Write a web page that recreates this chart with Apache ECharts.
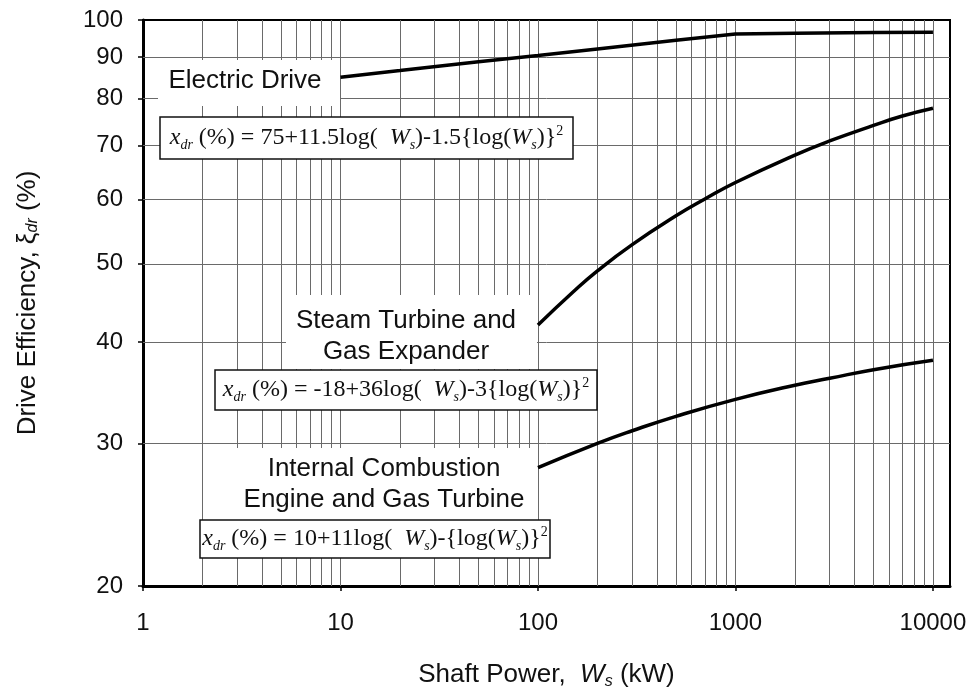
<!DOCTYPE html>
<html lang="en" style="height: 100%">
<head>
  <meta charset="utf-8">
</head>
<body style="height: 100%; margin: 0; background: #fff">
  <div id="container" style="height: 100%"></div>

  <script type="text/javascript" src="https://cdn.jsdelivr.net/npm/echarts@6/dist/echarts.min.js"></script>

  <script type="text/javascript">
    // values
    var edPower = [10, 20, 50, 100, 200, 500, 1000, 2000, 5000, 10000];
    var edEff = [85, 86.6, 88.8, 90.4, 92.1, 94.4, 96.1, 96.3, 96.5, 96.6];

    var stPower = [100, 150, 200, 300, 500, 700, 1000, 2000, 3000, 5000, 7000, 10000];
    var stEff = [42, 46.1, 49, 52.8, 57.3, 60.1, 63, 68.1, 70.9, 74.1, 76.1, 77.8];

    var icPower = [100, 200, 300, 500, 1000, 2000, 3000, 5000, 10000];
    var icEff = [28, 30, 31.1, 32.4, 34, 35.4, 36.1, 37, 38];

    var xTicks = [1, 10, 100, 1000, 10000];
    var yTicks = [20, 30, 40, 50, 60, 70, 80, 90, 100];
    var xGrid = [2, 3, 4, 5, 6, 7, 8, 9, 10,
                 20, 30, 40, 50, 60, 70, 80, 90, 100,
                 200, 300, 400, 500, 600, 700, 800, 900, 1000,
                 2000, 3000, 4000, 5000, 6000, 7000, 8000, 9000, 10000];
    var yGrid = [30, 40, 50, 60, 70, 80, 90];

    function pairs(xs, ys) {
      return xs.map(function (x, i) { return [x, ys[i]]; });
    }

    var dom = document.getElementById('container');
    var myChart = echarts.init(dom, null, { renderer: 'canvas' });

    var sans = 'Liberation Sans';
    var serif = 'Liberation Serif';
    var fRich = {
      i: { fontFamily: serif, fontStyle: 'italic', fontSize: 24, lineHeight: 28 },
      s: { fontFamily: serif, fontStyle: 'italic', fontSize: 14, verticalAlign: 'bottom', lineHeight: 16 },
      p: { fontFamily: serif, fontSize: 14, verticalAlign: 'top', lineHeight: 16 }
    };

    function formulaBox(x, y, w, h, text) {
      return [{
        type: 'rect', z: 10,
        shape: { x: x, y: y, width: w, height: h },
        style: { fill: '#fff', stroke: '#111', lineWidth: 1.5 }
      }, {
        type: 'text', z: 11, x: x + w / 2, y: y + h / 2,
        style: {
          text: text, align: 'center', verticalAlign: 'middle',
          fontFamily: serif, fontSize: 24, lineHeight: 28, fill: '#111', rich: fRich
        }
      }];
    }

    function labelBox(x, y, w, h, cx, cy, text) {
      return [{
        type: 'rect', z: 10,
        shape: { x: x, y: y, width: w, height: h },
        style: { fill: '#fff' }
      }, {
        type: 'text', z: 11, x: cx, y: cy,
        style: {
          text: text, align: 'center', verticalAlign: 'middle',
          fontFamily: sans, fontSize: 26, lineHeight: 31, fill: '#111'
        }
      }];
    }

    var graphics = []
      .concat(labelBox(158, 60, 182, 46, 245, 81, 'Electric Drive'))
      .concat(formulaBox(160, 117, 413, 42,
        '{i|x}{s|dr} (%) = 75+11.5log(  {i|W}{s|s})-1.5{log({i|W}{s|s})}{p|2}'))
      .concat(labelBox(286, 295, 251, 74, 406, 336, 'Steam Turbine and\nGas Expander'))
      .concat(formulaBox(215, 370, 382, 40,
        '{i|x}{s|dr} (%) = -18+36log(  {i|W}{s|s})-3{log({i|W}{s|s})}{p|2}'))
      .concat(labelBox(205, 448, 333, 72, 384, 484, 'Internal Combustion\nEngine and Gas Turbine'))
      .concat(formulaBox(200, 520, 350, 38,
        '{i|x}{s|dr} (%) = 10+11log(  {i|W}{s|s})-{log({i|W}{s|s})}{p|2}'));

    var curveStyle = { color: '#000', width: 3.5 };

    var option = {
      animation: false,
      grid: {
        left: 143, top: 20, right: 22, bottom: 108,
        show: true, borderColor: '#000', borderWidth: 2, backgroundColor: 'transparent'
      },
      xAxis: {
        type: 'log', logBase: 10, min: 1, max: 12200,
        name: 'Shaft Power,  {i|W}{s|s} (kW)',
        nameLocation: 'middle', nameGap: 74,
        nameTextStyle: {
          fontFamily: sans, fontSize: 26, color: '#111',
          rich: {
            i: { fontFamily: sans, fontStyle: 'italic', fontSize: 26, lineHeight: 30 },
            s: { fontFamily: sans, fontStyle: 'italic', fontSize: 16, verticalAlign: 'bottom', lineHeight: 18 }
          }
        },
        axisLine: { lineStyle: { color: '#000', width: 3 } },
        axisTick: { show: true, length: 5, customValues: xTicks, lineStyle: { color: '#000', width: 1.5 } },
        axisLabel: {
          customValues: xTicks, margin: 25, fontFamily: sans, fontSize: 24, color: '#111',
          formatter: function (v) { return String(Math.round(v)); }
        },
        splitLine: { show: false },
        minorSplitLine: { show: false }
      },
      yAxis: {
        type: 'log', logBase: 10, min: 20, max: 100,
        name: 'Drive Efficiency, ξ{s|dr} (%)',
        nameLocation: 'middle', nameGap: 102,
        nameTextStyle: {
          fontFamily: sans, fontSize: 26, color: '#111',
          rich: {
            s: { fontFamily: sans, fontStyle: 'italic', fontSize: 16, verticalAlign: 'bottom', lineHeight: 18 }
          }
        },
        axisLine: { show: true, lineStyle: { color: '#000', width: 3 } },
        axisTick: { show: true, length: 5, customValues: yTicks, lineStyle: { color: '#000', width: 1.5 } },
        axisLabel: {
          customValues: yTicks, margin: 20, fontFamily: sans, fontSize: 24, color: '#111',
          formatter: function (v) { return String(Math.round(v)); }
        },
        splitLine: { show: false }
      },
      graphic: graphics,
      series: [
        {
          name: 'grid', type: 'line', data: [], silent: true,
          markLine: {
            silent: true, symbol: ['none', 'none'], animation: false,
            label: { show: false },
            lineStyle: { color: '#6a6a6a', width: 1, type: 'solid' },
            data: xGrid.map(function (v) { return { xAxis: v }; })
              .concat(yGrid.map(function (v) { return { yAxis: v }; }))
          }
        },
        {
          name: 'Electric Drive', type: 'line', data: pairs(edPower, edEff),
          showSymbol: false, lineStyle: curveStyle, z: 20
        },
        {
          name: 'Steam Turbine and Gas Expander', type: 'line', data: pairs(stPower, stEff),
          smooth: true, showSymbol: false, lineStyle: curveStyle, z: 20
        },
        {
          name: 'Internal Combustion Engine and Gas Turbine', type: 'line', data: pairs(icPower, icEff),
          smooth: true, showSymbol: false, lineStyle: curveStyle, z: 20
        }
      ]
    };

    myChart.setOption(option);
    window.addEventListener('resize', myChart.resize);
  </script>
</body>
</html>
